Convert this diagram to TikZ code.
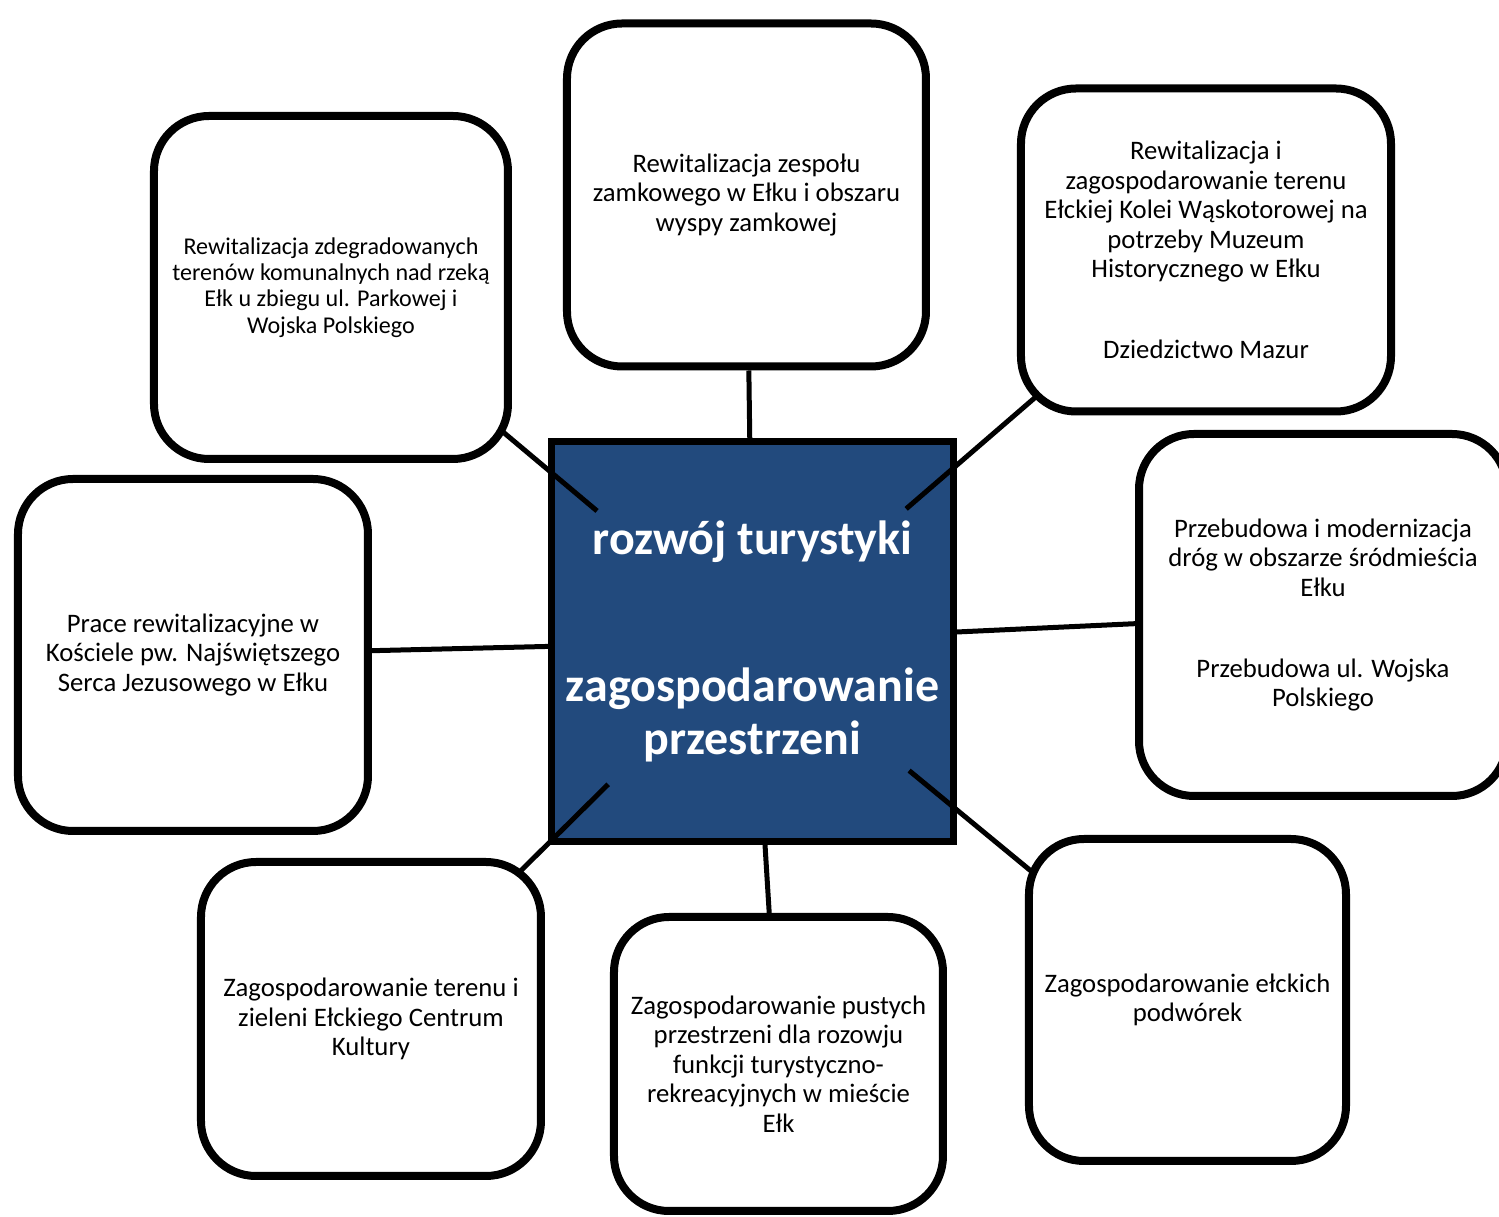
\documentclass[tikz,border=0pt]{standalone}
\usepackage{fontspec}
\setmainfont{Carlito}
\usetikzlibrary{calc,shadows}
\definecolor{elkblue}{HTML}{224A7D}
\pgfdeclarelayer{hubs}
\pgfdeclarelayer{links}
\pgfsetlayers{hubs,links,main}
\tikzset{
  goal/.style={draw=black,line width=1.6mm,rounded corners=11mm,fill=white,align=center,inner sep=2mm,
    font=\fontsize{15.2}{16.8}\selectfont,drop shadow={opacity=0.18,shadow xshift=0.6mm,shadow yshift=-0.6mm}},
  hub/.style={draw=black,line width=1.4mm,fill=elkblue,text=white,align=center,
    font=\bfseries\fontsize{27.3}{30.2}\selectfont,minimum width=80.4mm,minimum height=80mm,
    drop shadow={opacity=0.18,shadow xshift=0.6mm,shadow yshift=-0.6mm}},
  link/.style={draw=black,line width=1mm},
}

\begin{document}
\begin{tikzpicture}
  \useasboundingbox (-150.5mm,-115.1mm) rectangle (149.3mm,128.3mm);
  \begin{pgfonlayer}{hubs}
    \node[hub] (centre) at (0,0) {rozwój turystyki\\[18.8mm]zagospodarowanie\\przestrzeni};
  \end{pgfonlayer}
  \node[goal,minimum width=70.8mm,minimum height=68.6mm,font=\fontsize{13.7}{15}\selectfont] (parkowa) at (-84.3mm,70.8mm)
    {Rewitalizacja zdegradowanych\\terenów komunalnych nad rzeką\\Ełk u zbiegu ul. Parkowej i\\Wojska Polskiego};
  \node[goal,minimum width=71.8mm,minimum height=68.6mm] (zamek) at (-1.2mm,89.3mm)
    {Rewitalizacja zespołu\\zamkowego w Ełku i obszaru\\wyspy zamkowej};
  \node[goal,minimum width=74mm,minimum height=64.6mm] (kolej) at (90.7mm,78.3mm)
    {Rewitalizacja i\\zagospodarowanie terenu\\Ełckiej Kolei Wąskotorowej na\\potrzeby Muzeum\\Historycznego w Ełku\\[10.3mm]Dziedzictwo Mazur};
  \node[goal,minimum width=73.6mm,minimum height=72.4mm] (drogi) at (114.1mm,5.3mm)
    {Przebudowa i modernizacja\\dróg w obszarze śródmieścia\\Ełku\\[10.3mm]Przebudowa ul. Wojska\\Polskiego};
  \node[goal,minimum width=63.4mm,minimum height=64.4mm] (podworka) at (87mm,-71.7mm)
    {Zagospodarowanie ełckich\\podwórek};
  \node[goal,minimum width=65.8mm,minimum height=58.8mm] (pustki) at (5.2mm,-84.5mm)
    {Zagospodarowanie pustych\\przestrzeni dla rozowju\\funkcji turystyczno-\\rekreacyjnych w mieście\\Ełk};
  \node[goal,minimum width=68mm,minimum height=62.8mm] (eck) at (-76.3mm,-75.5mm)
    {Zagospodarowanie terenu i\\zieleni Ełckiego Centrum\\Kultury};
  \node[goal,minimum width=70mm,minimum height=70.4mm] (kosciol) at (-111.9mm,-2.7mm)
    {Prace rewitalizacyjne w\\Kościele pw. Najświętszego\\Serca Jezusowego w  Ełku};

  \begin{pgfonlayer}{links}
    \draw[link] (centre) -- (zamek);
    \draw[link] (centre) -- (drogi);
    \draw[link] (centre) -- (pustki);
    \draw[link] (centre) -- (kosciol);
    % diagonal ones start inside the hub
    \draw[link] ($(centre)!40.6mm!(parkowa)$) -- (parkowa.center);
    \draw[link] ($(centre)!40.6mm!(kolej)$) -- (kolej.center);
    \draw[link] ($(centre)!40.6mm!(podworka)$) -- (podworka.center);
    \draw[link] ($(centre)!40.6mm!(eck)$) -- (eck.center);
  \end{pgfonlayer}
\end{tikzpicture}
\end{document}
